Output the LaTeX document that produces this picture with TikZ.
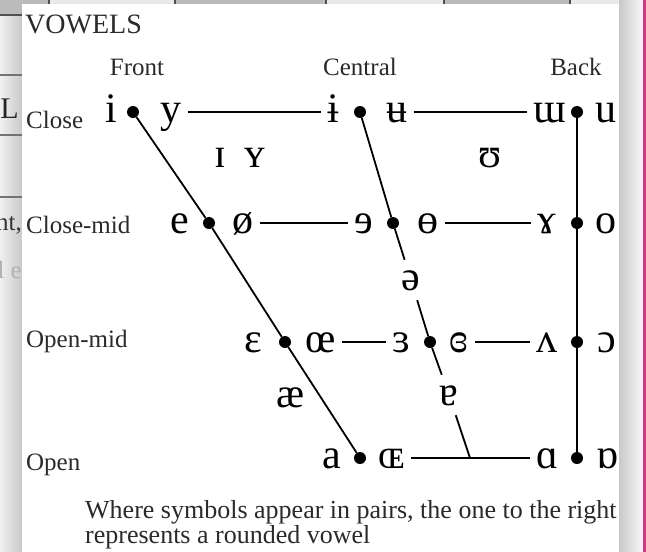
\documentclass[tikz,border=0pt]{standalone}
\usepackage{fontspec}
\setmainfont{Liberation Serif}
\definecolor{txt}{HTML}{2A2A2A}
\definecolor{pinkline}{HTML}{D8348A}
\definecolor{lightcell}{HTML}{E9E9E9}
\definecolor{darkcell}{HTML}{BBBBBB}
\definecolor{gridline}{HTML}{505050}
\begin{document}
\begin{tikzpicture}[x=1pt,y=-1pt,
  ipa/.style={font=\fontsize{42}{42}\selectfont, text=black, inner xsep=6pt, inner ysep=2pt, text height=28pt, text depth=8pt},
  vdot/.style={circle, fill=black, inner sep=0pt, minimum size=12pt},
  lbl/.style={font=\fontsize{25}{25}\selectfont, text=txt, inner sep=0pt},
  notetxt/.style={font=\fontsize{26}{21}\selectfont, text=txt, inner sep=0pt, align=left, anchor=base west},
  bgtxt/.style={anchor=base east, inner sep=0pt},
  edge/.style={line width=1.8pt, black},
  grid/.style={line width=1.2pt, gridline},
]
\useasboundingbox (0,0) rectangle (646,552);
% ---- background page ----
\fill[lightcell] (0,0) rectangle (646,552);
\shade[left color=gray!12, right color=gray!42] (0,0) rectangle (22,552);
\shade[left color=gray!42, right color=gray!6] (619,0) rectangle (643,552);
\fill[pinkline] (643,0) rectangle (646,552);
\fill[darkcell] (0,0) rectangle (49,15);
\fill[darkcell] (175,0) rectangle (326,4);
\fill[darkcell] (444,0) rectangle (570,4);
\foreach \gx in {49,175,326,444,570} \draw[grid] (\gx,0) -- (\gx,4);
\draw[grid] (0,15) -- (22,15);
\foreach \gy in {75,135,197} \draw[grid, gridline!80] (0,\gy) -- (22,\gy);
\begin{scope}
  \clip (0,0) rectangle (22,552);
  \node[bgtxt, font=\fontsize{30}{30}\selectfont, text=black!85] (bgL) at (19,118) {L};
  \node[bgtxt, font=\fontsize{25}{25}\selectfont, text=black!80] (bgnt) at (22,230) {nt,};
  \node[bgtxt, font=\fontsize{25}{25}\selectfont, text=black!30] (bgle) at (22,278) {l e};
\end{scope}
% ---- panel ----
\fill[white] (22,4) rectangle (619,552);
% ---- labels ----
\node[lbl, font=\fontsize{28}{28}\selectfont, anchor=base west] (title) at (25,33) {VOWELS};
\node[lbl, anchor=base] (hFront) at (137,75) {Front};
\node[lbl, anchor=base] (hCentral) at (360,75) {Central};
\node[lbl, anchor=base] (hBack) at (576,75) {Back};
\node[lbl, anchor=base west] (rClose) at (26,128) {Close};
\node[lbl, anchor=base west] (rCloseMid) at (26,233) {Close-mid};
\node[lbl, anchor=base west] (rOpenMid) at (26,347) {Open-mid};
\node[lbl, anchor=base west] (rOpen) at (26,470) {Open};
% ---- close ----
\node[ipa] (vi) at (111,112) {i};
\node[vdot] (dFc) at (133,112) {};
\node[ipa] (vy) at (171,112) {y};
\node[ipa] (vibar) at (333,112) {ɨ};
\node[vdot] (dCc) at (360,112) {};
\node[ipa] (vubar) at (397,112) {ʉ};
\node[ipa] (vturnm) at (550,112) {ɯ};
\node[vdot] (dBc) at (577,112) {};
\node[ipa] (vu) at (606,112) {u};
% ---- near-close ----
\node[ipa] (vsci) at (220,157) {ɪ};
\node[ipa] (vscy) at (255,157) {ʏ};
\node[ipa] (vupsilon) at (490,157) {ʊ};
% ---- close-mid ----
\node[ipa] (ve) at (180,223) {e};
\node[vdot] (dFcm) at (209,223) {};
\node[ipa] (voslash) at (243,223) {ø};
\node[ipa] (vreve) at (364,223) {ɘ};
\node[vdot] (dCcm) at (393,223) {};
\node[ipa] (vbaro) at (428,223) {ɵ};
\node[ipa] (vramshorn) at (547,223) {ɤ};
\node[vdot] (dBcm) at (577,223) {};
\node[ipa] (vo) at (606,223) {o};
% ---- mid ----
\node[ipa] (vschwa) at (411,280) {ə};
% ---- open-mid ----
\node[ipa] (veps) at (253,342) {ɛ};
\node[vdot] (dFom) at (285,342) {};
\node[ipa] (voe) at (321,342) {œ};
\node[ipa] (vreveps) at (401,342) {ɜ};
\node[vdot] (dCom) at (430,342) {};
\node[ipa] (vclreveps) at (459,342) {ɞ};
\node[ipa] (vturnv) at (547,342) {ʌ};
\node[vdot] (dBom) at (577,342) {};
\node[ipa] (vopeno) at (607,342) {ɔ};
% ---- near-open ----
\node[ipa] (vash) at (291,397) {æ};
\node[ipa] (vturna) at (449,395) {ɐ};
% ---- open ----
\node[ipa] (va) at (332,458) {a};
\node[vdot] (dFo) at (360,458) {};
\node[ipa] (vscoe) at (392,458) {ɶ};
\node[ipa] (vscripta) at (547,458) {ɑ};
\node[vdot] (dBo) at (577,458) {};
\node[ipa] (vturnscripta) at (607,458) {ɒ};
\coordinate (junc) at (470,458);
% ---- connectors ----
\draw[edge] (vy) -- (vibar);
\draw[edge] (vubar) -- (vturnm);
\draw[edge] (voslash) -- (vreve);
\draw[edge] (vbaro) -- (vramshorn);
\draw[edge] (voe) -- (vreveps);
\draw[edge] (vclreveps) -- (vturnv);
\draw[edge] (vscoe) -- (junc) -- (vscripta);
\draw[edge] (dFc) -- (dFcm) -- (dFom) -- (dFo);
\draw[edge] (dCc) -- (dCcm) -- (vschwa) -- (dCom) -- (vturna) -- (junc);
\draw[edge] (dBc) -- (dBcm) -- (dBom) -- (dBo);
% ---- note ----
\node[notetxt] (note) at (85,543) {Where symbols appear in pairs, the one to the right\\represents a rounded vowel};
\end{tikzpicture}
\end{document}
